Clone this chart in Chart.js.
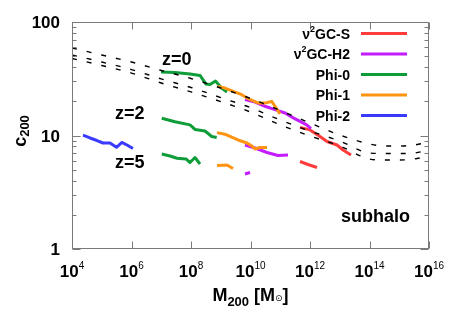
<!DOCTYPE html>
<html><head><meta charset="utf-8">
<style>html,body{margin:0;padding:0;background:#fff;}#wrap{width:463px;height:324px;position:relative;}</style>
<script src="https://cdn.jsdelivr.net/npm/chart.js@4.4.1/dist/chart.umd.min.js"></script>
</head><body><div id="wrap"><canvas id="c" width="463" height="324"></canvas></div>
<script>
// ---- axis ticks ----
const xMajorTicks = [1e4, 1e6, 1e8, 1e10, 1e12, 1e14, 1e16];
const xTickLabels = ['10^{4}', '10^{6}', '10^{8}', '10^{10}', '10^{12}', '10^{14}', '10^{16}'];
const yMajorTicks = [1, 10, 100];
const yTickLabels = ['1', '10', '100'];
const yMinorTicks = [2, 3, 4, 5, 6, 7, 8, 9, 20, 30, 40, 50, 60, 70, 80, 90];

// ---- series (legend order) ----
const seriesNames = ['\u03bd^{2}GC-S', '\u03bd^{2}GC-H2', 'Phi-0', 'Phi-1', 'Phi-2'];
const seriesColors = ['#ff3c3c', '#c41cff', '#0f9d3a', '#ff9412', '#3a3aff'];

// ---- model curves (dashed) ----
const modelMass = [1e4, 1e5, 1e6, 1e7, 1e8, 1e9, 1e10, 1e11, 1e12, 1e13, 1e14, 3.16e14, 1e15, 3.16e15, 1e16];
const modelTop = [59.0, 51.2, 44.4, 37.4, 31.8, 26.2, 21.2, 16.6, 12.9, 10.1, 8.42, 8.08, 8.08, 8.25, 8.76];
const modelMid = [51.2, 44.4, 38.1, 31.5, 26.5, 21.6, 17.6, 13.7, 10.95, 8.94, 7.01, 6.94, 6.94, 7.01, 7.45];
const modelBot = [47.7, 41.4, 35.5, 29.0, 24.2, 19.9, 16.1, 12.4, 9.90, 8.08, 6.21, 6.08, 6.08, 6.21, 6.60];

// ---- nu2GC-S ----
const sZ0Mass = [4.61e11, 1.0e12, 2.17e12, 3.73e12, 8.09e12, 1.29e13, 2.39e13];
const sZ0C = [11.8, 11.2, 9.80, 8.86, 8.25, 7.45, 6.73];
const sZ2Mass = [4.61e11, 8.57e11, 1.72e12];
const sZ2C = [5.90, 5.55, 5.23];
// ---- nu2GC-H2 ----
const hZ0Mass = [6.53e9, 1.42e10, 3.07e10, 6.66e10, 1.45e11, 2.75e11, 4.61e11, 7.74e11, 1.08e12];
const hZ0C = [20.7, 19.7, 18.1, 16.9, 15.8, 14.3, 13.3, 12.4, 11.5];
const hZ2Mass = [6.53e9, 1.42e10, 3.59e10, 8.40e10, 1.82e11];
const hZ2C = [8.25, 7.76, 7.08, 6.66, 6.73];
const hZ5Mass = [6.53e9, 9.62e9];
const hZ5C = [4.58, 4.72];
// ---- Phi-0 ----
const p0Z0Mass = [9.82e6, 2.90e7, 9.25e7, 2.01e8, 3.19e8, 4.35e8, 6.67e8, 1.06e9, 1.62e9];
const p0Z0C = [36.3, 35.9, 34.8, 33.8, 28.4, 28.1, 30.2, 26.2, 24.2];
const p0Z2Mass = [1.04e7, 2.90e7, 9.25e7, 1.36e8, 2.96e8, 4.97e8, 7.31e8];
const p0Z2C = [14.2, 13.2, 12.4, 11.3, 10.95, 9.80, 9.60];
const p0Z5Mass = [1.04e7, 1.97e7, 3.38e7, 6.79e7, 9.25e7, 1.36e8, 2.01e8];
const p0Z5C = [6.87, 6.60, 6.30, 6.21, 5.78, 6.40, 5.61];
// ---- Phi-1 ----
const p1Z0Mass = [7.89e8, 1.39e9, 2.64e9, 5.06e9, 8.43e9, 1.83e10, 3.07e10, 5.16e10, 6.66e10, 9.82e10];
const p1Z0C = [27.1, 26.2, 24.5, 22.9, 21.1, 19.3, 19.3, 20.0, 18.1, 15.5];
const p1Z2Mass = [7.48e8, 1.50e9, 3.80e9, 7.63e9, 1.12e10, 1.42e10, 2.08e10, 3.59e10];
const p1Z2C = [10.6, 10.2, 9.13, 8.59, 8.08, 7.60, 7.84, 7.84];
const p1Z5Mass = [7.48e8, 1.62e9, 2.58e9];
const p1Z5C = [5.44, 5.50, 5.12];
// ---- Phi-2 ----
const p2Z0Mass = [2.34e4, 4.03e4, 6.92e4, 1.10e5, 1.89e5, 3.13e5, 4.69e5, 7.06e5, 1.12e6];
const p2Z0C = [10.1, 9.51, 9.03, 8.59, 8.59, 7.87, 8.68, 8.25, 7.68];

const FAM = '"Liberation Sans", Arial, Helvetica, sans-serif';
const pts = (m, c) => m.map((v, i) => ({x: v, y: c[i]}));

function dataSet(mass, c, si) {
  return {data: pts(mass, c), borderColor: seriesColors[si], borderWidth: 3, pointRadius: 0,
          tension: 0, fill: false, borderCapStyle: 'butt', borderJoinStyle: 'round', order: 5 - si};
}
function modelSet(c) {
  return {data: pts(modelMass, c), borderColor: '#000', borderWidth: 1.4, borderDash: [5, 10],
          pointRadius: 0, cubicInterpolationMode: 'monotone', fill: false, order: 0};
}

function parseRich(s) {
  const out = []; let i = 0, buf = '';
  while (i < s.length) {
    const ch = s[i];
    if ((ch === '^' || ch === '_' || ch === '@') && s[i + 1] === '{') {
      if (buf) { out.push({t: buf, m: 0}); buf = ''; }
      const j = s.indexOf('}', i);
      out.push({t: s.slice(i + 2, j), m: ch === '^' ? 1 : ch === '_' ? 2 : 3});
      i = j + 1;
    } else { buf += ch; i++; }
  }
  if (buf) out.push({t: buf, m: 0});
  return out;
}
function drawRich(ctx, s, x, y, o) {
  const parts = parseRich(s);
  const fonts = parts.map(p => p.m === 0 ? `bold ${o.size}px ${FAM}` :
    p.m === 3 ? `${o.tinySize || 9}px "DejaVu Sans", sans-serif` :
    `${o.subWeight || 'bold'} ${o.subSize}px ${FAM}`);
  let w = 0;
  const ws = parts.map((p, k) => { ctx.font = fonts[k]; const m = ctx.measureText(p.t).width; w += m; return m; });
  let cx = o.align === 'center' ? x - w / 2 : o.align === 'right' ? x - w : x;
  ctx.textAlign = 'left'; ctx.textBaseline = 'alphabetic';
  parts.forEach((p, k) => {
    ctx.font = fonts[k];
    const dy = p.m === 1 ? -o.supRaise : p.m === 2 ? o.subDrop : p.m === 3 ? (o.tinyDrop || 0) : 0;
    ctx.fillText(p.t, cx, y + dy);
    cx += ws[k];
  });
}

const decor = {
  id: 'decor',
  afterDraw(chart) {
    const {ctx, chartArea: a, scales: {x, y}} = chart;
    ctx.save();
    // frame
    ctx.strokeStyle = '#7a7a7a'; ctx.lineWidth = 1;
    const L = Math.round(a.left) + 0.5, R = Math.round(a.right) - 0.5, T = Math.round(a.top) + 0.5, B = Math.round(a.bottom) - 0.5;
    ctx.strokeRect(L, T, R - L, B - T);
    ctx.beginPath();
    xMajorTicks.forEach(v => { const px = Math.round(x.getPixelForValue(v)) + 0.5;
      ctx.moveTo(px, B); ctx.lineTo(px, B - 7); ctx.moveTo(px, T); ctx.lineTo(px, T + 7); });
    yMajorTicks.forEach(v => { const py = Math.round(y.getPixelForValue(v)) + 0.5;
      ctx.moveTo(L, py); ctx.lineTo(L + 8, py); ctx.moveTo(R, py); ctx.lineTo(R - 8, py); });
    yMinorTicks.forEach(v => { const py = Math.round(y.getPixelForValue(v)) + 0.5;
      ctx.moveTo(L, py); ctx.lineTo(L + 4, py); ctx.moveTo(R, py); ctx.lineTo(R - 4, py); });
    ctx.stroke();

    ctx.fillStyle = '#000';
    // x tick labels
    xMajorTicks.forEach((v, i) => drawRich(ctx, xTickLabels[i], x.getPixelForValue(v), 277,
      {size: 17, subSize: 10, subWeight: 'normal', supRaise: 8, align: 'center'}));
    // y tick labels
    yMajorTicks.forEach((v, i) => drawRich(ctx, yTickLabels[i], 60, y.getPixelForValue(v) + 6,
      {size: 17, align: 'right'}));
    // axis titles
    drawRich(ctx, 'M_{200} [M@{\u2299}]', (a.left + a.right) / 2, 301,
      {size: 18, subSize: 13, subDrop: 5, tinySize: 9, tinyDrop: 0, align: 'center'});
    ctx.save();
    ctx.translate(26, 131); ctx.rotate(-Math.PI / 2);
    drawRich(ctx, 'c_{200}', 0, 0, {size: 18, subSize: 13, subDrop: 3, align: 'center'});
    ctx.restore();

    // annotations
    drawRich(ctx, 'z=0', 162, 65, {size: 18, align: 'left'});
    drawRich(ctx, 'z=2', 115, 119, {size: 18, align: 'left'});
    drawRich(ctx, 'z=5', 115, 168, {size: 18, align: 'left'});
    drawRich(ctx, 'subhalo', 341, 222, {size: 18, align: 'left'});

    // legend
    seriesNames.forEach((n, i) => {
      const ly = 33.5 + i * 20.5;
      ctx.fillStyle = '#000';
      drawRich(ctx, n, 350, ly + 5, {size: 14, subSize: 9, subWeight: 'bold', supRaise: 7, align: 'right'});
      ctx.strokeStyle = seriesColors[i]; ctx.lineWidth = 3; ctx.setLineDash([]);
      ctx.beginPath(); ctx.moveTo(361, ly); ctx.lineTo(407, ly); ctx.stroke();
    });
    ctx.restore();
  }
};

new Chart(document.getElementById('c'), {
  type: 'line',
  data: {datasets: [
    modelSet(modelTop), modelSet(modelMid), modelSet(modelBot),
    dataSet(sZ0Mass, sZ0C, 0), dataSet(sZ2Mass, sZ2C, 0),
    dataSet(hZ0Mass, hZ0C, 1), dataSet(hZ2Mass, hZ2C, 1), dataSet(hZ5Mass, hZ5C, 1),
    dataSet(p0Z0Mass, p0Z0C, 2), dataSet(p0Z2Mass, p0Z2C, 2), dataSet(p0Z5Mass, p0Z5C, 2),
    dataSet(p1Z0Mass, p1Z0C, 3), dataSet(p1Z2Mass, p1Z2C, 3), dataSet(p1Z5Mass, p1Z5C, 3),
    dataSet(p2Z0Mass, p2Z0C, 4)
  ]},
  options: {
    responsive: false, animation: false, devicePixelRatio: 1,
    layout: {padding: {left: 72, right: 34, top: 22, bottom: 75}},
    plugins: {legend: {display: false}, tooltip: {enabled: false}},
    scales: {
      x: {type: 'logarithmic', min: 1e4, max: 1e16, display: false},
      y: {type: 'logarithmic', min: 1, max: 100, display: false}
    }
  },
  plugins: [decor]
});
</script></body></html>
